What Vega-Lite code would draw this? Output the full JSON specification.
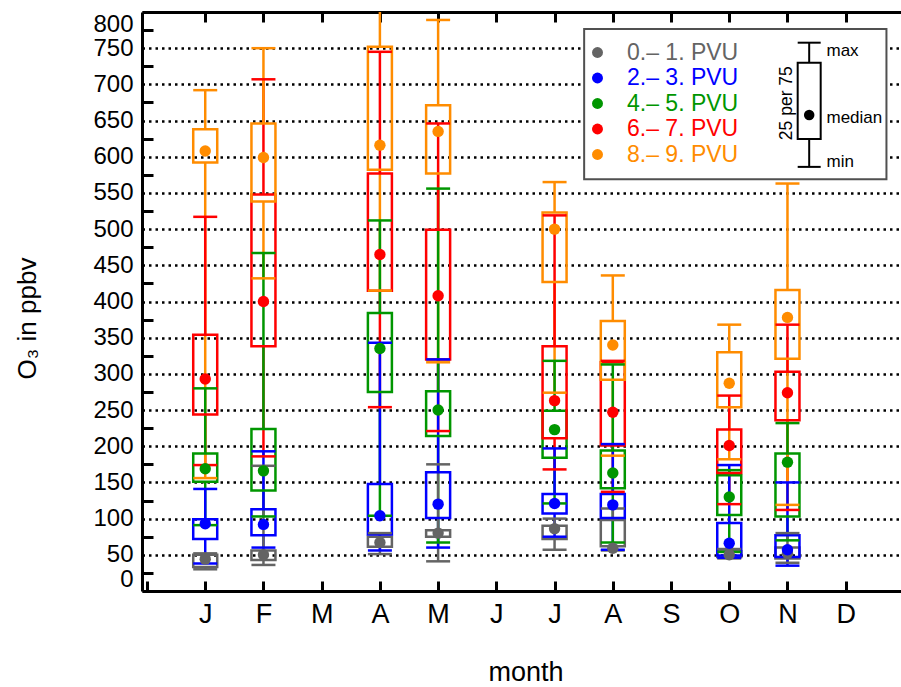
{
  "$schema": "https://vega.github.io/schema/vega-lite/v6.json",
  "width": 759,
  "height": 579,
  "autosize": {"type": "none"},
  "padding": {"left": 142, "top": 12, "right": 0, "bottom": 96},
  "config": {"view": {"stroke": null}, "font": "Liberation Sans"},
  "datasets": {
    "box": [
      {"m": 1, "s": "0.– 1. PVU", "lo": 30, "q1": 33, "md": 44, "q3": 50, "hi": 52},
      {"m": 1, "s": "2.– 3. PVU", "lo": 38, "q1": 72, "md": 93, "q3": 99, "hi": 141},
      {"m": 1, "s": "4.– 5. PVU", "lo": 91, "q1": 151, "md": 169, "q3": 190, "hi": 280},
      {"m": 1, "s": "6.– 7. PVU", "lo": 174, "q1": 244, "md": 293, "q3": 354, "hi": 517},
      {"m": 1, "s": "8.– 9. PVU", "lo": 156, "q1": 592, "md": 608, "q3": 638, "hi": 692},
      {"m": 2, "s": "0.– 1. PVU", "lo": 36, "q1": 43, "md": 50, "q3": 56, "hi": 173},
      {"m": 2, "s": "2.– 3. PVU", "lo": 60, "q1": 77, "md": 92, "q3": 113, "hi": 193},
      {"m": 2, "s": "4.– 5. PVU", "lo": 103, "q1": 139, "md": 166, "q3": 224, "hi": 467},
      {"m": 2, "s": "6.– 7. PVU", "lo": 186, "q1": 338, "md": 400, "q3": 548, "hi": 707},
      {"m": 2, "s": "8.– 9. PVU", "lo": 432, "q1": 538, "md": 599, "q3": 646, "hi": 750},
      {"m": 4, "s": "0.– 1. PVU", "lo": 51, "q1": 61, "md": 67, "q3": 75, "hi": 80},
      {"m": 4, "s": "2.– 3. PVU", "lo": 56, "q1": 78, "md": 104, "q3": 148, "hi": 343},
      {"m": 4, "s": "4.– 5. PVU", "lo": 104, "q1": 275, "md": 335, "q3": 384, "hi": 512},
      {"m": 4, "s": "6.– 7. PVU", "lo": 254, "q1": 415, "md": 465, "q3": 577, "hi": 745},
      {"m": 4, "s": "8.– 9. PVU", "lo": 415, "q1": 582, "md": 616, "q3": 752, "hi": 810},
      {"m": 5, "s": "0.– 1. PVU", "lo": 41, "q1": 75, "md": 80, "q3": 84, "hi": 175},
      {"m": 5, "s": "2.– 3. PVU", "lo": 60, "q1": 101, "md": 120, "q3": 164, "hi": 320},
      {"m": 5, "s": "4.– 5. PVU", "lo": 67, "q1": 214, "md": 250, "q3": 276, "hi": 556},
      {"m": 5, "s": "6.– 7. PVU", "lo": 221, "q1": 320, "md": 408, "q3": 499, "hi": 646},
      {"m": 5, "s": "8.– 9. PVU", "lo": 316, "q1": 577, "md": 635, "q3": 671, "hi": 789},
      {"m": 7, "s": "0.– 1. PVU", "lo": 57, "q1": 72, "md": 86, "q3": 90, "hi": 100},
      {"m": 7, "s": "2.– 3. PVU", "lo": 75, "q1": 107, "md": 121, "q3": 134, "hi": 197},
      {"m": 7, "s": "4.– 5. PVU", "lo": 121, "q1": 184, "md": 223, "q3": 249, "hi": 318},
      {"m": 7, "s": "6.– 7. PVU", "lo": 168, "q1": 211, "md": 263, "q3": 338, "hi": 519},
      {"m": 7, "s": "8.– 9. PVU", "lo": 274, "q1": 427, "md": 500, "q3": 523, "hi": 565},
      {"m": 8, "s": "0.– 1. PVU", "lo": 56, "q1": 62, "md": 59, "q3": 98, "hi": 114},
      {"m": 8, "s": "2.– 3. PVU", "lo": 57, "q1": 101, "md": 119, "q3": 134, "hi": 203},
      {"m": 8, "s": "4.– 5. PVU", "lo": 67, "q1": 142, "md": 163, "q3": 194, "hi": 313},
      {"m": 8, "s": "6.– 7. PVU", "lo": 137, "q1": 201, "md": 247, "q3": 316, "hi": 318},
      {"m": 8, "s": "8.– 9. PVU", "lo": 187, "q1": 292, "md": 340, "q3": 373, "hi": 436},
      {"m": 10, "s": "0.– 1. PVU", "lo": 45, "q1": 47, "md": 50, "q3": 55, "hi": 58},
      {"m": 10, "s": "2.– 3. PVU", "lo": 46, "q1": 49, "md": 66, "q3": 94, "hi": 174},
      {"m": 10, "s": "4.– 5. PVU", "lo": 54, "q1": 105, "md": 130, "q3": 160, "hi": 167},
      {"m": 10, "s": "6.– 7. PVU", "lo": 120, "q1": 163, "md": 201, "q3": 223, "hi": 270},
      {"m": 10, "s": "8.– 9. PVU", "lo": 182, "q1": 254, "md": 287, "q3": 330, "hi": 368},
      {"m": 11, "s": "0.– 1. PVU", "lo": 39, "q1": 45, "md": 52, "q3": 60, "hi": 80},
      {"m": 11, "s": "2.– 3. PVU", "lo": 35, "q1": 47, "md": 57, "q3": 77, "hi": 150},
      {"m": 11, "s": "4.– 5. PVU", "lo": 70, "q1": 103, "md": 178, "q3": 190, "hi": 232},
      {"m": 11, "s": "6.– 7. PVU", "lo": 112, "q1": 236, "md": 274, "q3": 303, "hi": 368},
      {"m": 11, "s": "8.– 9. PVU", "lo": 119, "q1": 321, "md": 378, "q3": 416, "hi": 563}
    ],
    "frame": [{"x1": 7.508, "x2": 12.7, "y1": 569, "y2": 776.5}],
    "key": [
      {"part": "whisker", "x": 11.373, "lo": 586, "hi": 624.5},
      {"part": "whisker", "x": 11.373, "lo": 730, "hi": 757.6},
      {"part": "cap", "x": 11.373, "lo": 586},
      {"part": "cap", "x": 11.373, "lo": 757.6},
      {"part": "box", "x": 11.373, "lo": 624.5, "hi": 730},
      {"part": "dot", "x": 11.373, "lo": 657.7},
      {"part": "label", "x": 11.67, "lo": 746, "t": "max"},
      {"part": "label", "x": 11.67, "lo": 654, "t": "median"},
      {"part": "label", "x": 11.67, "lo": 593, "t": "min"},
      {"part": "vlabel", "x": 10.99, "lo": 674, "t": "25 per 75"}
    ]
  },
  "resolve": {"axis": {"x": "independent", "y": "independent"}},
  "layer": [
    {
      "data": {"name": "box"},
      "mark": {"type": "rule", "strokeWidth": 2.5, "clip": true},
      "encoding": {
        "x": {
          "field": "m", "type": "quantitative",
          "scale": {"domain": [0, 12.864], "nice": false, "zero": false},
          "axis": {
            "orient": "bottom",
            "values": [0, 1, 2, 3, 4, 5, 6, 7, 8, 9, 10, 11, 12],
            "labelExpr": "['', 'J', 'F', 'M', 'A', 'M', 'J', 'J', 'A', 'S', 'O', 'N', 'D'][datum.value]",
            "labelFontSize": 27, "labelColor": "black", "labelPadding": 20,
            "labelOverlap": false, "labelFlush": false, "labelBound": false,
            "tickSize": -10, "tickWidth": 3, "tickColor": "black",
            "domainColor": "black", "domainWidth": 3, "grid": false,
            "title": "month", "titleFontSize": 27, "titleFontWeight": "normal", "titleColor": "black",
            "titleX": 383.5, "titleY": 89, "titleBaseline": "alphabetic", "titleAlign": "center"
          }
        },
        "y": {
          "field": "lo", "type": "quantitative",
          "scale": {"domain": [0, 800], "nice": false},
          "axis": {
            "values": [0, 25, 50, 75, 100, 125, 150, 175, 200, 225, 250, 275, 300, 325, 350, 375, 400, 425, 450, 475, 500, 525, 550, 575, 600, 625, 650, 675, 700, 725, 750, 775, 800],
            "labelExpr": "datum.value % 50 === 0 ? datum.label : ''",
            "labelFontSize": 24, "labelColor": "black", "labelPadding": 20,
            "labelOverlap": false, "labelFlush": true, "labelFlushOffset": 0, "labelBound": false,
            "tickSize": -11, "tickWidth": 3, "tickColor": "black",
            "tickOpacity": {"condition": {"test": "datum.value % 50 === 0", "value": 0}, "value": 1},
            "grid": true, "gridColor": "black", "gridDash": [2.5, 4], "gridWidth": 2.5,
            "gridOpacity": {"condition": {"test": "datum.value % 50 === 0", "value": 1}, "value": 0},
            "domainColor": "black", "domainWidth": 3,
            "title": "O₃ in ppbv", "titleFontSize": 26, "titleFontWeight": "normal", "titleColor": "black",
            "titleX": -115, "titleY": 306, "titleAngle": -90, "titleBaseline": "middle", "titleAlign": "center"
          }
        },
        "y2": {"field": "q1"},
        "color": {
          "field": "s", "type": "nominal",
          "scale": {"domain": ["0.– 1. PVU", "2.– 3. PVU", "4.– 5. PVU", "6.– 7. PVU", "8.– 9. PVU"], "range": ["#646464", "#0000ff", "#009600", "#ff0000", "#ff8c00"]}
        }
      }
    },
    {
      "data": {"name": "box"},
      "mark": {"type": "rule", "strokeWidth": 2.5, "clip": true},
      "encoding": {
        "x": {
          "field": "m", "type": "quantitative",
          "axis": {
            "orient": "top", "values": [1, 2, 3, 4, 5, 6, 7, 8, 9, 10, 11, 12],
            "labels": false, "tickSize": -10, "tickWidth": 3, "tickColor": "black",
            "domainColor": "black", "domainWidth": 3, "grid": false, "title": null
          }
        },
        "y": {"field": "q3", "type": "quantitative", "axis": null},
        "y2": {"field": "hi"},
        "color": {"field": "s", "type": "nominal"}
      }
    },
    {
      "data": {"name": "box"},
      "mark": {"type": "bar", "width": 24, "filled": false, "fill": "transparent", "strokeWidth": 2.5},
      "encoding": {
        "x": {"field": "m", "type": "quantitative", "axis": null},
        "y": {"field": "q1", "type": "quantitative", "axis": null},
        "y2": {"field": "q3"},
        "color": {"field": "s", "type": "nominal"}
      }
    },
    {
      "data": {"name": "box"},
      "mark": {"type": "tick", "orient": "horizontal", "size": 24, "thickness": 2.5, "opacity": 1, "clip": true},
      "encoding": {
        "x": {"field": "m", "type": "quantitative", "axis": null},
        "y": {"field": "hi", "type": "quantitative", "axis": null},
        "color": {"field": "s", "type": "nominal"}
      }
    },
    {
      "data": {"name": "box"},
      "mark": {"type": "tick", "orient": "horizontal", "size": 24, "thickness": 2.5, "opacity": 1},
      "encoding": {
        "x": {"field": "m", "type": "quantitative", "axis": null},
        "y": {"field": "lo", "type": "quantitative", "axis": null},
        "color": {"field": "s", "type": "nominal"}
      }
    },
    {
      "data": {"name": "box"},
      "mark": {"type": "circle", "size": 130, "opacity": 1},
      "encoding": {
        "x": {"field": "m", "type": "quantitative", "axis": null},
        "y": {"field": "md", "type": "quantitative", "axis": null},
        "color": {
          "field": "s", "type": "nominal",
          "legend": {
            "orient": "none", "legendX": 444, "legendY": 29, "title": null,
            "symbolType": "circle", "symbolSize": 120, "symbolStrokeWidth": 0,
            "labelFontSize": 23, "labelFont": "Liberation Sans", "labelOffset": 18,
            "labelColor": {"expr": "scale('color', datum.value)"},
            "rowPadding": 1.5, "padding": 0, "zindex": 2,
            "encode": {
              "symbols": {"update": {"fill": {"scale": "color", "field": "value"}, "stroke": {"value": "transparent"}, "opacity": {"value": 1}}}
            }
          }
        }
      }
    },
    {
      "data": {"name": "frame"},
      "mark": {"type": "rect", "fill": "white", "stroke": "#505050", "strokeWidth": 2},
      "encoding": {
        "x": {"field": "x1", "type": "quantitative", "axis": null},
        "x2": {"field": "x2"},
        "y": {"field": "y1", "type": "quantitative", "axis": null},
        "y2": {"field": "y2"}
      }
    },
    {
      "data": {"name": "key"},
      "transform": [{"filter": "datum.part === 'whisker'"}],
      "mark": {"type": "rule", "strokeWidth": 2, "color": "black"},
      "encoding": {
        "x": {"field": "x", "type": "quantitative", "axis": null},
        "y": {"field": "lo", "type": "quantitative", "axis": null},
        "y2": {"field": "hi"}
      }
    },
    {
      "data": {"name": "key"},
      "transform": [{"filter": "datum.part === 'cap'"}],
      "mark": {"type": "tick", "orient": "horizontal", "size": 23, "thickness": 2, "color": "black", "opacity": 1},
      "encoding": {
        "x": {"field": "x", "type": "quantitative", "axis": null},
        "y": {"field": "lo", "type": "quantitative", "axis": null}
      }
    },
    {
      "data": {"name": "key"},
      "transform": [{"filter": "datum.part === 'box'"}],
      "mark": {"type": "bar", "width": 23, "fill": "white", "stroke": "black", "strokeWidth": 2},
      "encoding": {
        "x": {"field": "x", "type": "quantitative", "axis": null},
        "y": {"field": "lo", "type": "quantitative", "axis": null},
        "y2": {"field": "hi"}
      }
    },
    {
      "data": {"name": "key"},
      "transform": [{"filter": "datum.part === 'dot'"}],
      "mark": {"type": "circle", "size": 110, "color": "black", "opacity": 1},
      "encoding": {
        "x": {"field": "x", "type": "quantitative", "axis": null},
        "y": {"field": "lo", "type": "quantitative", "axis": null}
      }
    },
    {
      "data": {"name": "key"},
      "transform": [{"filter": "datum.part === 'label'"}],
      "mark": {"type": "text", "align": "left", "baseline": "middle", "fontSize": 17, "color": "black", "font": "Liberation Sans"},
      "encoding": {
        "x": {"field": "x", "type": "quantitative", "axis": null},
        "y": {"field": "lo", "type": "quantitative", "axis": null},
        "text": {"field": "t"}
      }
    },
    {
      "data": {"name": "key"},
      "transform": [{"filter": "datum.part === 'vlabel'"}],
      "mark": {"type": "text", "align": "center", "baseline": "middle", "angle": 270, "fontSize": 17.5, "color": "black", "font": "Liberation Sans"},
      "encoding": {
        "x": {"field": "x", "type": "quantitative", "axis": null},
        "y": {"field": "lo", "type": "quantitative", "axis": null},
        "text": {"field": "t"}
      }
    }
  ]
}
